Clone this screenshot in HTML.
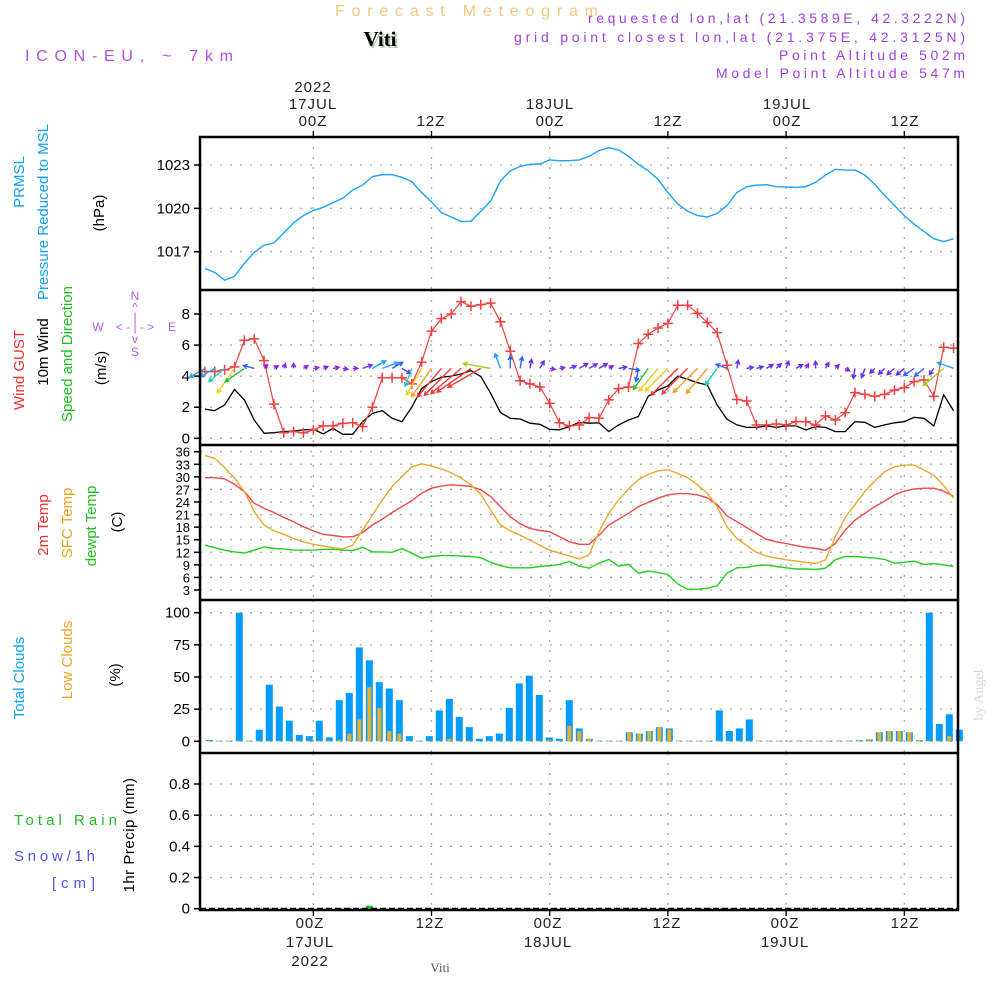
<!DOCTYPE html>
<html><head><meta charset="utf-8"><title>Forecast Meteogram Viti</title>
<style>
html,body{margin:0;padding:0;background:#fff;width:1000px;height:1000px;overflow:hidden}
svg{display:block;font-family:"Liberation Sans",sans-serif}
</style></head>
<body>
<svg id="chart" width="1000" height="1000" viewBox="0 0 1000 1000" xmlns="http://www.w3.org/2000/svg">
<rect x="0" y="0" width="1000" height="1000" fill="#fff"/>
<text x="335" y="16" font-size="16" fill="#f3c880" textLength="263" lengthAdjust="spacing">Forecast Meteogram</text>
<text x="382" y="48" text-anchor="middle" font-size="21" font-weight="bold" font-family="Liberation Serif,serif" fill="#b8ccb8">Viti</text>
<text x="380" y="46" text-anchor="middle" font-size="21" font-weight="bold" font-family="Liberation Serif,serif" fill="#000">Viti</text>
<text x="25" y="61" font-size="16" fill="#b050e0" textLength="208" lengthAdjust="spacing">ICON-EU, ~ 7km</text>
<g font-size="14" fill="#a040e0">
<text x="588" y="23" textLength="377" lengthAdjust="spacing">requested lon,lat (21.3589E, 42.3222N)</text>
<text x="514" y="42" textLength="451" lengthAdjust="spacing">grid point closest lon,lat (21.375E, 42.3125N)</text>
<text x="779" y="60" textLength="186" lengthAdjust="spacing">Point Altitude 502m</text>
<text x="716" y="78" textLength="249" lengthAdjust="spacing">Model Point Altitude 547m</text>
</g>
<g font-size="15" fill="#222" text-anchor="middle" letter-spacing="1">
<text x="313" y="92">2022</text><text x="313" y="109">17JUL</text><text x="313" y="126">00Z</text>
<text x="431" y="126">12Z</text>
<text x="550" y="109">18JUL</text><text x="550" y="126">00Z</text>
<text x="668" y="126">12Z</text>
<text x="787" y="109">19JUL</text><text x="787" y="126">00Z</text>
<text x="905" y="126">12Z</text>
</g>
<g font-size="15" fill="#222" text-anchor="middle" letter-spacing="1">
<text x="310" y="928">00Z</text><text x="310" y="947">17JUL</text><text x="310" y="966">2022</text>
<text x="430" y="928">12Z</text>
<text x="548" y="928">00Z</text><text x="548" y="947">18JUL</text>
<text x="667" y="928">12Z</text>
<text x="785" y="928">00Z</text><text x="785" y="947">19JUL</text>
<text x="905" y="928">12Z</text>
</g>
<text x="440" y="972" text-anchor="middle" font-size="13" font-family="Liberation Serif,serif" fill="#555">Viti</text>
<text transform="translate(983,695) rotate(-90)" text-anchor="middle" font-size="14" font-family="Liberation Serif,serif" fill="#d8d8d8">by Angel</text>

<g font-size="15" text-anchor="middle">
<text transform="translate(24,182) rotate(-90)" fill="#10a0f0">PRMSL</text>
<text transform="translate(48,212) rotate(-90)" fill="#10a0f0">Pressure Reduced to MSL</text>
<text transform="translate(104,213) rotate(-90)" fill="#000">(hPa)</text>
</g>
<g font-size="15" text-anchor="middle">
<text transform="translate(24,370) rotate(-90)" fill="#f03030">Wind GUST</text>
<text transform="translate(48,352) rotate(-90)" fill="#000">10m Wind</text>
<text transform="translate(72,354) rotate(-90)" fill="#20c020">Speed and Direction</text>
<text transform="translate(106,368) rotate(-90)" fill="#000">(m/s)</text>
</g>
<g font-size="12" fill="#b060e0" text-anchor="middle">
<text x="135" y="300">N</text><text x="135" y="311">^</text><text x="135" y="321">|</text>
<text x="98" y="331">W</text><text x="135" y="331">&lt; - | - &gt;</text><text x="172" y="331">E</text>
<text x="135" y="343">v</text><text x="135" y="356">S</text>
</g>
<g font-size="15" text-anchor="middle">
<text transform="translate(48,525) rotate(-90)" fill="#f03030">2m Temp</text>
<text transform="translate(72,523) rotate(-90)" fill="#f0a020">SFC Temp</text>
<text transform="translate(96,526) rotate(-90)" fill="#20c020">dewpt Temp</text>
<text transform="translate(122,522) rotate(-90)" fill="#000">(C)</text>
</g>
<g font-size="15" text-anchor="middle">
<text transform="translate(24,678) rotate(-90)" fill="#10a0f0">Total Clouds</text>
<text transform="translate(72,660) rotate(-90)" fill="#f0a020">Low Clouds</text>
<text transform="translate(120,675) rotate(-90)" fill="#000">(%)</text>
</g>
<g font-size="15">
<text x="14" y="825" fill="#20c020" textLength="103" lengthAdjust="spacing">Total  Rain</text>
<text x="14" y="861" fill="#5050f0" textLength="81" lengthAdjust="spacing">Snow/1h</text>
<text x="52" y="888" fill="#5050f0" textLength="43" lengthAdjust="spacing">[cm]</text>
<text transform="translate(134,835) rotate(-90)" text-anchor="middle" fill="#000" letter-spacing="0.5">1hr Precip (mm)</text>
</g>
<g id="plot"></g>
</svg>
<script>
const pressure=[1015.84,1015.56,1015.03,1015.3,1016.2,1016.95,1017.46,1017.6,1018.3,1019.0,1019.5,1019.86,1020.07,1020.4,1020.7,1021.27,1021.6,1022.2,1022.33,1022.33,1022.15,1021.85,1021.1,1020.46,1019.7,1019.4,1019.1,1019.1,1019.8,1020.5,1021.9,1022.6,1022.9,1023.05,1023.07,1023.35,1023.3,1023.3,1023.35,1023.6,1024.0,1024.2,1024.04,1023.6,1023.05,1022.6,1022.0,1021.1,1020.3,1019.8,1019.5,1019.4,1019.65,1020.2,1021.1,1021.5,1021.6,1021.64,1021.5,1021.48,1021.45,1021.5,1021.8,1022.3,1022.7,1022.65,1022.65,1022.3,1021.66,1020.9,1020.2,1019.5,1018.9,1018.4,1017.9,1017.7,1017.9];
const gust=[4.3,4.3,4.4,4.6,6.3,6.4,5.0,2.2,0.36,0.43,0.36,0.54,0.8,0.8,0.96,1.0,0.75,2.0,3.9,3.9,3.9,3.5,4.9,6.9,7.7,8.0,8.8,8.5,8.6,8.7,7.5,5.6,3.7,3.5,3.3,2.25,1.0,0.8,0.86,1.33,1.3,2.47,3.2,3.3,6.1,6.7,7.1,7.4,8.56,8.56,8.05,7.45,6.8,4.7,2.5,2.4,0.86,0.86,0.92,0.86,1.07,1.07,0.86,1.44,1.18,1.65,2.94,2.83,2.7,2.83,3.1,3.26,3.65,3.75,2.7,5.86,5.8];
const wind10=[1.87,1.78,2.15,3.15,2.47,1.18,0.32,0.36,0.43,0.47,0.54,0.58,0.28,0.64,0.26,0.26,1.07,1.6,1.78,1.29,1.07,2.0,3.2,3.65,3.93,4.0,4.14,4.36,3.97,2.9,1.65,1.29,1.24,0.97,0.9,0.58,0.54,0.75,1.03,0.97,1.0,0.43,0.86,1.18,1.4,2.7,3.1,3.37,4.0,3.8,3.58,3.43,2.15,1.22,0.86,0.7,0.7,0.8,0.7,0.8,0.8,0.54,0.75,0.7,0.43,0.43,1.07,1.03,0.7,0.86,1.0,1.07,1.35,1.29,0.8,2.8,1.78];
const windDir=[240,240,230,215,235,285,45,60,20,0,60,80,70,80,100,90,70,60,70,60,120,200,210,215,220,225,230,235,240,280,340,0,10,10,30,100,80,70,60,60,60,60,80,100,190,215,220,225,225,225,225,220,215,290,10,80,75,60,45,20,60,30,0,30,45,120,190,200,225,225,230,230,235,230,215,230,290];
const temp2m=[29.8,29.8,29.5,28.2,26.5,23.7,22.5,21.5,20.3,19.3,18.1,17.1,16.3,16.0,15.7,15.7,16.7,18.5,19.9,21.5,22.9,24.3,26.1,27.3,27.8,28.1,27.9,27.7,26.9,25.3,22.9,20.5,18.8,17.7,17.2,16.9,15.7,14.5,13.9,13.9,16.1,18.5,19.9,21.3,22.9,23.9,24.9,25.7,26.0,26.0,25.7,25.0,23.4,20.7,19.3,17.9,16.5,15.1,14.5,14.1,13.6,13.2,12.9,12.5,14.1,17.3,19.7,21.3,22.9,24.2,25.7,26.6,27.1,27.3,27.3,26.6,25.3];
const sfcTemp=[35.1,34.4,32.2,29.7,26.5,21.7,18.5,17.1,16.3,15.3,14.5,13.9,13.5,13.1,12.8,13.7,17.3,20.9,24.5,27.7,30.0,32.4,33.1,32.6,31.9,31.0,29.7,28.1,25.8,22.1,18.5,17.1,16.1,14.9,13.7,12.5,11.8,11.1,10.4,11.4,16.9,21.3,24.5,27.1,29.3,30.6,31.4,31.7,30.8,29.8,28.1,26.1,22.9,18.1,15.3,13.6,12.0,11.1,10.6,10.2,9.9,9.6,9.3,10.2,15.7,20.3,23.4,26.5,29.0,31.2,32.4,32.8,32.8,31.6,30.4,27.9,24.9];
const dewpt=[13.7,13.1,12.5,12.1,11.8,12.5,13.3,12.9,12.8,12.5,12.5,12.5,12.7,12.7,12.5,12.4,13.2,12.1,12.1,12.0,12.9,11.8,10.6,11.0,11.2,11.2,11.1,11.0,10.7,9.6,8.8,8.3,8.3,8.3,8.6,8.8,9.1,9.8,8.7,8.2,9.4,10.3,8.7,9.1,7.0,7.5,7.2,6.7,4.4,3.2,3.2,3.4,4.0,7.0,8.3,8.4,8.8,9.0,8.6,8.3,8.0,8.0,7.9,8.2,10.2,11.0,11.0,10.8,10.6,10.3,9.4,9.6,9.9,9.1,9.3,9.0,8.6];
const totalClouds=[1,0.5,0.5,100,0.5,9,44,27,16,5,4,16,3,32,37.5,73,63,46,41,32,4,0.5,4,24,33,19,11,2,4,6,26,45,51,36,3,2,32,10,2,0.5,0.5,0.5,7,6,8,11,10,0.5,0.5,0.5,0.5,24,8,10,17,0.5,0.5,0.5,0.5,0.5,0.5,0.5,0.5,0.5,0.5,1,1.5,7,8,8,7,1,100,13.5,21,9];
const lowClouds=[0.5,0.5,0.5,0.5,0.5,0.5,0.5,0.5,0.5,0.5,0.5,0.5,0.5,1,6,17,42,26,8,6,0.5,0,0.5,0.5,2,0.5,0.5,0,0.5,0.5,0.5,0.5,0.5,0.5,1,0.5,12,8,2,0.5,0.5,0.5,7,6,8,11,9,0.5,0.5,0.5,0.5,0.5,0.5,0.5,0.5,0.5,0.5,0.5,0.5,0.5,0.5,0.5,0.5,0.5,0.5,1,1.5,7,8,8,7,1,0.5,0.5,4,0.5];
const precip=[0,0,0,0,0,0,0,0,0,0,0,0,0,0,0,0,0.015,0,0,0,0,0,0,0,0,0,0,0,0,0,0,0,0,0,0,0,0,0,0,0,0,0,0,0,0,0,0,0,0,0,0,0,0,0,0,0,0,0,0,0,0,0,0,0,0,0,0,0,0,0,0,0,0,0,0,0];
const pressureTicks=[1017,1020,1023];
const windTicks=[0,2,4,6,8];
const tempTicks=[3,6,9,12,15,18,21,24,27,30,33,36];
const cloudTicks=[0,25,50,75,100];
const precipTicks=[0,0.2,0.4,0.6,0.8];
const timeTicks=[0,12,24,36,48,60];
const START_HOUR=-11;

const NS='http://www.w3.org/2000/svg';
const plot=document.getElementById('plot');
function mk(tag,attrs,parent){const e=document.createElementNS(NS,tag);for(const k in attrs)e.setAttribute(k,attrs[k]);(parent||plot).appendChild(e);return e;}
const L=200,R=958;
function xT(h){return 313.3+h*9.85;}
function xI(i){return xT(i+START_HOUR);}
function xBar(i){return 209.3+i*10.0;}
function lin(v0,p0,v1,p1){return v=>p0+(v-v0)*(p1-p0)/(v1-v0);}
const yP=lin(1023,165,1017,251.7);
const yW=lin(0,438.3,8,314);
const yT=lin(36,451.7,3,590);
const yC=lin(0,741.3,100,612.7);
const yR=lin(0,908.7,0.8,784);
const panels=[[137,290],[290,445],[445,600],[600,753],[753,910]];

panels.forEach(function(p,k){
  timeTicks.forEach(function(h){
    const g=mk('line',{x1:xT(h),x2:xT(h),y1:p[0],y2:p[1],stroke:'#aaa','stroke-width':1.3,'stroke-dasharray':'2 8'});
    
    
  });
});
function hGrid(ticks,yf,fmt,name){
  ticks.forEach(function(v){
    const y=yf(v);
    const g=mk('line',{x1:L,x2:R,y1:y,y2:y,stroke:'#aaa','stroke-width':1.3,'stroke-dasharray':'2 8'});
    
    
    const tk=mk('line',{x1:L-6,x2:L,y1:y,y2:y,stroke:'#000','stroke-width':1.5});
    
    
    const t=mk('text',{x:L-10,y:y+5,'text-anchor':'end','font-size':name==='temp'?13:15,fill:'#000'});
    
    
    t.textContent=fmt(v);
  });
}
hGrid(pressureTicks,yP,v=>String(v),'pressure');
hGrid(windTicks,yW,v=>String(v),'wind');
hGrid(tempTicks,yT,v=>String(v),'temp');
hGrid(cloudTicks,yC,v=>String(v),'cloud');
hGrid(precipTicks,yR,v=>v===0?'0':v.toFixed(1),'precip');

const pPts=pressure.map((v,i)=>xI(i).toFixed(1)+','+yP(v).toFixed(1)).join(' ');
const pl=mk('polyline',{points:pPts,fill:'none',stroke:'#1aa3ff','stroke-width':1.4});



const wl=mk('polyline',{points:wind10.map((v,i)=>xI(i).toFixed(1)+','+yW(v).toFixed(1)).join(' '),fill:'none',stroke:'#000','stroke-width':1.3});



const gl=mk('polyline',{points:gust.map((v,i)=>xI(i).toFixed(1)+','+yW(v).toFixed(1)).join(' '),fill:'none',stroke:'#f04040','stroke-width':1.2});


gust.forEach(function(v,i){
  const x=xI(i),y=yW(v);
  const m=mk('path',{d:'M'+(x-5)+' '+y+'H'+(x+5)+'M'+x+' '+(y-5)+'V'+(y+5),stroke:'#f04040','stroke-width':1.5,fill:'none'});
  
  
});

function windColor(s){
  if(s<0.7)return '#8a20e0';
  if(s<1.1)return '#6030f0';
  if(s<1.5)return '#3060ff';
  if(s<1.9)return '#20a0ff';
  if(s<2.3)return '#20c8c0';
  if(s<2.8)return '#20c030';
  if(s<3.1)return '#a0d020';
  if(s<3.4)return '#e8d020';
  if(s<3.8)return '#f0a020';
  return '#f03838';
}
const anchorY=yW(4.5);
windDir.forEach(function(d,i){
  const s=wind10[i];
  const len=Math.max(5,s*9.5);
  const a=d*Math.PI/180;
  const x0=xI(i),y0=anchorY;
  const x1=x0+Math.sin(a)*len,y1=y0-Math.cos(a)*len;
  const hl=4.5,ha=0.5;
  const bx=-Math.sin(a),by=Math.cos(a);
  const h1x=x1+hl*(bx*Math.cos(ha)-by*Math.sin(ha)),h1y=y1+hl*(bx*Math.sin(ha)+by*Math.cos(ha));
  const h2x=x1+hl*(bx*Math.cos(-ha)-by*Math.sin(-ha)),h2y=y1+hl*(bx*Math.sin(-ha)+by*Math.cos(-ha));
  const ar=mk('path',{d:'M'+x0.toFixed(1)+' '+y0.toFixed(1)+'L'+x1.toFixed(1)+' '+y1.toFixed(1)+'M'+h1x.toFixed(1)+' '+h1y.toFixed(1)+'L'+x1.toFixed(1)+' '+y1.toFixed(1)+'L'+h2x.toFixed(1)+' '+h2y.toFixed(1),stroke:windColor(s),'stroke-width':1.4,fill:'none'});
  
  
});

[[dewpt,'#20d020','dewpoint-line'],[temp2m,'#f04848','temp-2m-line'],[sfcTemp,'#e8a830','sfc-temp-line']].forEach(function(s){
  const ln=mk('polyline',{points:s[0].map((v,i)=>xI(i).toFixed(1)+','+yT(v).toFixed(1)).join(' '),fill:'none',stroke:s[1],'stroke-width':1.4});
  
  
});

totalClouds.forEach(function(v,i){
  const y=yC(v);
  const b=mk('rect',{x:xBar(i)-3.5,y:y,width:7,height:Math.max(0.5,yC(0)-y),fill:'#009cff'});
  
  
});
lowClouds.forEach(function(v,i){
  const y=yC(v);
  const b=mk('rect',{x:xBar(i)-2,y:y,width:4,height:Math.max(0,yC(0)-y),fill:'#e8b030'});
  
  
});

precip.forEach(function(v,i){
  if(v<=0)return;
  const y=yR(v);
  const b=mk('rect',{x:xBar(i)-3.5,y:Math.min(y,yR(0)-3),width:7,height:Math.max(3,yR(0)-y),fill:'#20c020'});
  
  
});
const zl=mk('line',{x1:L,x2:R,y1:yR(0),y2:yR(0),stroke:'#000','stroke-width':2,'stroke-dasharray':'6 3'});



const fr=mk('rect',{x:L,y:137,width:R-L,height:910-137,fill:'none',stroke:'#000','stroke-width':2.5});


[290,445,600,753].forEach(function(y){
  const s=mk('line',{x1:L,x2:R,y1:y,y2:y,stroke:'#000','stroke-width':2.5});
  
  
});
timeTicks.forEach(function(h){
  const t1=mk('line',{x1:xT(h),x2:xT(h),y1:131,y2:137,stroke:'#000','stroke-width':1.3});
  
  
  const t2=mk('line',{x1:xT(h),x2:xT(h),y1:910,y2:916,stroke:'#000','stroke-width':1.3});
  
  
});
</script>
</body></html>
